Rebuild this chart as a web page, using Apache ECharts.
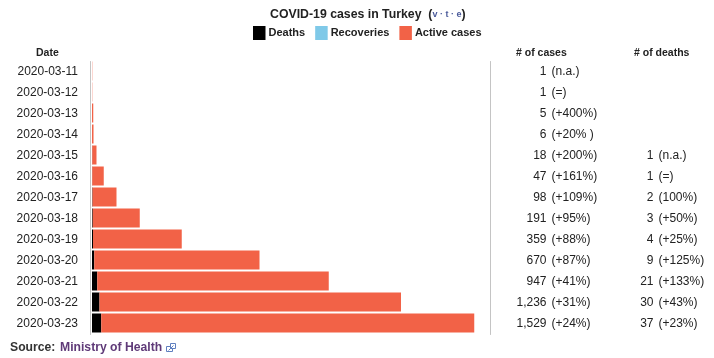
<!DOCTYPE html>
<html><head><meta charset="utf-8">
<style>html,body{margin:0;padding:0;background:#fff}#c{width:714px;height:358px}</style>
<script src="https://cdn.jsdelivr.net/npm/echarts@6/dist/echarts.min.js"></script>
</head><body><div id="c"></div>
<script>
const dates=['2020-03-11','2020-03-12','2020-03-13','2020-03-14','2020-03-15','2020-03-16','2020-03-17','2020-03-18','2020-03-19','2020-03-20','2020-03-21','2020-03-22','2020-03-23'];
const cases=[1,1,5,6,18,47,98,191,359,670,947,1236,1529];
const deaths=[0,0,0,0,1,1,2,3,4,9,21,30,37];
const recoveries=[0,0,0,0,0,0,0,0,0,0,0,0,0];
const caseLabels=['1','1','5','6','18','47','98','191','359','670','947','1,236','1,529'];
const caseNotes=['(n.a.)','(=)','(+400%)','(+20% )','(+200%)','(+161%)','(+109%)','(+95%)','(+88%)','(+87%)','(+41%)','(+31%)','(+24%)'];
const deathLabels=['','','','','1','1','2','3','4','9','21','30','37'];
const deathNotes=['','','','','(n.a.)','(=)','(100%)','(+50%)','(+25%)','(+125%)','(+133%)','(+43%)','(+23%)'];
const active=cases.map((c,i)=>c-deaths[i]-recoveries[i]);
const FONT='"Liberation Sans",Arial,sans-serif';
const TXT='#222';
const chart=echarts.init(document.getElementById('c'),null,{renderer:'canvas'});
const bar=(name,data,color)=>({name,type:'bar',stack:'t',data,barWidth:19,itemStyle:{color},emphasis:{disabled:true},silent:true});
const col=(data,align,margin)=>({type:'category',data,inverse:true,position:'right',
  axisLine:{show:false},axisTick:{show:false},
  axisLabel:{interval:0,margin,align,fontFamily:FONT,fontSize:12,color:TXT}});
chart.setOption({
  animation:false,
  textStyle:{fontFamily:FONT},
  title:{left:270,top:9,padding:0,
    text:'{t|COVID-19 cases in Turkey}{s|  (}{v|v · t · e}{s|)}',
    textStyle:{rich:{
      t:{fontFamily:FONT,fontSize:12.3,fontWeight:'bold',color:TXT},
      s:{fontFamily:FONT,fontSize:12.3,fontWeight:'bold',color:TXT},
      v:{fontFamily:FONT,fontSize:9,color:'#4a5a9a'}}}},
  legend:{left:253,top:26,padding:0,itemWidth:12.5,itemHeight:14,itemGap:10,
    selectedMode:false,icon:'rect',
    textStyle:{fontFamily:FONT,fontSize:11,fontWeight:'bold',color:TXT,padding:[0,0,0,-2]},
    data:['Deaths','Recoveries','Active cases']},
  // main grid holds the bars; the second grid only carries the axis lines and label columns, one pixel lower for text
  grid:[
    {left:92,top:60.5,width:398,height:273},
    {left:90.5,top:61.5,width:399.5,height:273}
  ],
  xAxis:[
    {type:'value',min:0,max:1592,show:false,gridIndex:0},
    {type:'value',min:0,max:1592,show:false,gridIndex:1}
  ],
  yAxis:[
    {type:'category',data:dates,inverse:true,gridIndex:0,show:false},
    {type:'category',data:dates,inverse:true,position:'left',gridIndex:1,
     axisLine:{show:true,lineStyle:{color:'#c4c4c4',width:1}},axisTick:{show:false},
     axisLabel:{interval:0,margin:12.5,fontFamily:FONT,fontSize:12,color:TXT}},
    {type:'category',data:dates,inverse:true,position:'right',gridIndex:1,
     axisLine:{show:true,lineStyle:{color:'#c4c4c4',width:1}},axisTick:{show:false},axisLabel:{show:false}},
    Object.assign(col(caseLabels,'right',56.5),{gridIndex:1}),
    Object.assign(col(caseNotes,'left',61.5),{gridIndex:1}),
    Object.assign(col(deathLabels,'right',163.5),{gridIndex:1}),
    Object.assign(col(deathNotes,'left',168.5),{gridIndex:1})
  ],
  series:[bar('Deaths',deaths,'#000000'),bar('Recoveries',recoveries,'#7fc9e8'),bar('Active cases',active,'#f26247')],
  graphic:[
    {type:'text',left:36,top:48,style:{text:'Date',font:'bold 10.5px '+FONT,fill:TXT}},
    {type:'text',left:516,top:48,style:{text:'# of cases',font:'bold 10.5px '+FONT,fill:TXT}},
    {type:'text',left:634,top:48,style:{text:'# of deaths',font:'bold 10.5px '+FONT,fill:TXT}},
    {type:'text',left:10,top:342,style:{text:'Source:',font:'bold 12.2px '+FONT,fill:'#333'}},
    {type:'text',left:60,top:342,style:{text:'Ministry of Health',font:'bold 12.2px '+FONT,fill:'#5f3a78'}},
    {type:'rect',shape:{x:166.5,y:346.5,width:6,height:5},style:{fill:'#fff',stroke:'#5f7fbf',lineWidth:1}},
    {type:'rect',shape:{x:170.5,y:343.5,width:5,height:5},style:{fill:'#fff',stroke:'#5f7fbf',lineWidth:1}},
    {type:'line',shape:{x1:168.5,y1:350.5,x2:173.5,y2:345.5},style:{stroke:'#5f7fbf',lineWidth:1}}
  ]
});
</script></body></html>
